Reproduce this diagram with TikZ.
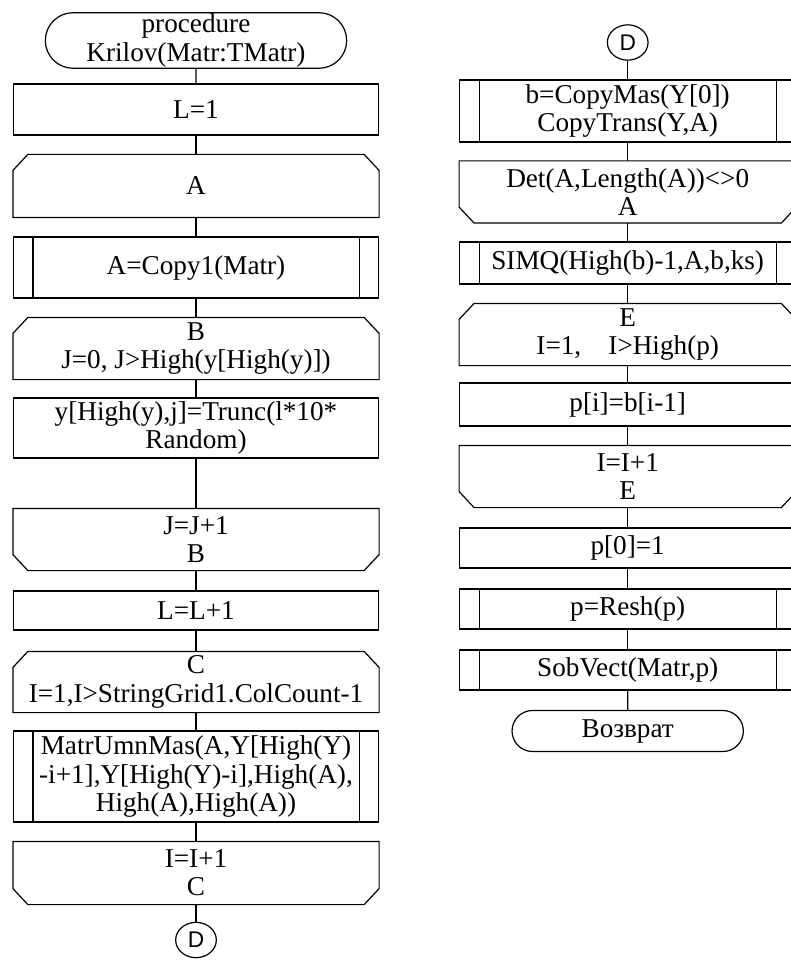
\documentclass[tikz,border=0pt]{standalone}
\usepackage{fontspec}
\setmainfont{Liberation Serif}
\newfontfamily\connfont{Liberation Sans}
\usetikzlibrary{shapes.misc, shapes.geometric}

\begin{document}
\begin{tikzpicture}[x=0.75pt, y=-0.75pt, line width=0.9pt,
    txt/.style={font=\fontsize{20.4}{21.2}\selectfont, align=center, inner sep=1pt},
    proc/.style={txt, draw, rectangle, minimum width=273.75pt},
    subproc/.style={proc},
    loopbeg/.style={txt, rectangle, minimum width=273.75pt},
    loopend/.style={loopbeg},
    term/.style={txt, draw, rounded rectangle},
    conn/.style={draw, ellipse, minimum width=30.5pt, minimum height=26.5pt, inner sep=0pt,
                 font=\connfont\fontsize{17}{18}\selectfont},
    rcol/.style={minimum width=252pt},
    link/.style={-}
  ]
    \useasboundingbox (0,0) rectangle (790,962);

    % left column
    \node[term, minimum width=228pt, minimum height=38.25pt] (start) at (196,40.5)
         {procedure\\Krilov(Matr:TMatr)};
    \node[proc, minimum height=38.25pt]    (lone)  at (196,109.5) {L=1};
    \node[loopbeg, minimum height=46.5pt]  (loopA) at (196,186)   {A};
    \node[subproc, minimum height=45.75pt] (copyA) at (196,267.5) {A=Copy1(Matr)};
    \node[loopbeg, minimum height=45.75pt] (loopB) at (196,348.5) {B\\J=0, J>High(y[High(y)])};
    \node[proc, minimum height=45pt]       (fillY) at (196,428)   {y[High(y),j]=Trunc(l*10*\\Random)};
    \node[loopend, minimum height=45.75pt] (endB)  at (196,539.5) {J=J+1\\B};
    \node[proc, minimum height=29.25pt]    (linc)  at (196,610.5) {L=L+1};
    \node[loopbeg, minimum height=45pt]    (loopC) at (196,682)   {C\\I=1,I>StringGrid1.ColCount-1};
    \node[subproc, minimum height=68.25pt] (mulY)  at (196,776.5)
         {MatrUmnMas(A,Y[High(Y)\\-i+1],Y[High(Y)-i],High(A),\\High(A),High(A))};
    \node[loopend, minimum height=46.5pt]  (endC)  at (196,873)   {I=I+1\\C};
    \node[conn] (outD) at (196,940) {D};

    % right column
    \node[conn] (inD) at (627.7,42.5) {D};
    \node[subproc, rcol, minimum height=46.5pt]  (copyB) at (627.7,111)  {b=CopyMas(Y[0])\\CopyTrans(Y,A)};
    \node[loopend, rcol, minimum height=45.75pt] (endA)  at (627.7,192)  {Det(A,Length(A))<>0\\A};
    \node[subproc, rcol, minimum height=31.5pt]  (simq)  at (627.7,263)  {SIMQ(High(b)-1,A,b,ks)};
    \node[loopbeg, rcol, minimum height=45.75pt] (loopE) at (627.7,334.5) {E\\I=1,\quad I>High(p)};
    \node[proc, rcol, minimum height=32.25pt]    (setP)  at (627.7,404.5) {p[i]=b[i-1]};
    \node[loopend, rcol, minimum height=45.75pt] (endE)  at (627.7,476.5) {I=I+1\\E};
    \node[proc, rcol, minimum height=30pt]       (pzero) at (627.7,548)  {p[0]=1};
    \node[subproc, rcol, minimum height=30pt]    (resh)  at (627.7,609)  {p=Resh(p)};
    \node[subproc, rcol, minimum height=30pt]    (sobv)  at (627.7,670)  {SobVect(Matr,p)};
    \node[term, minimum width=175.5pt, minimum height=30.75pt] (ret) at (627.7,731) {Возврат};

    % side bars of the subroutine blocks
    \foreach \n in {copyA, mulY, copyB, simq, resh, sobv}{
      \draw ([xshift=15pt]\n.north west) -- ([xshift=15pt]\n.south west);
      \draw ([xshift=-15pt]\n.north east) -- ([xshift=-15pt]\n.south east);
    }

    % loop limits: cut corners on top (begin) or bottom (end)
    \foreach \n in {loopA, loopB, loopC, loopE}
      \draw ([yshift=-12pt]\n.north west) -- ([xshift=11.25pt]\n.north west)
         -- ([xshift=-11.25pt]\n.north east) -- ([yshift=-12pt]\n.north east)
         -- (\n.south east) -- (\n.south west) -- cycle;
    \foreach \n in {endB, endC, endA, endE}
      \draw ([yshift=12pt]\n.south west) -- ([xshift=11.25pt]\n.south west)
         -- ([xshift=-11.25pt]\n.south east) -- ([yshift=12pt]\n.south east)
         -- (\n.north east) -- (\n.north west) -- cycle;

    % connectors
    \foreach \a/\b in {start/lone, lone/loopA, loopA/copyA, copyA/loopB, loopB/fillY,
                       fillY/endB, endB/linc, linc/loopC, loopC/mulY, mulY/endC, endC/outD,
                       inD/copyB, copyB/endA, endA/simq, simq/loopE, loopE/setP,
                       setP/endE, endE/pzero, pzero/resh, resh/sobv, sobv/ret}
      \draw[link] (\a) -- (\b);
\end{tikzpicture}
\end{document}
